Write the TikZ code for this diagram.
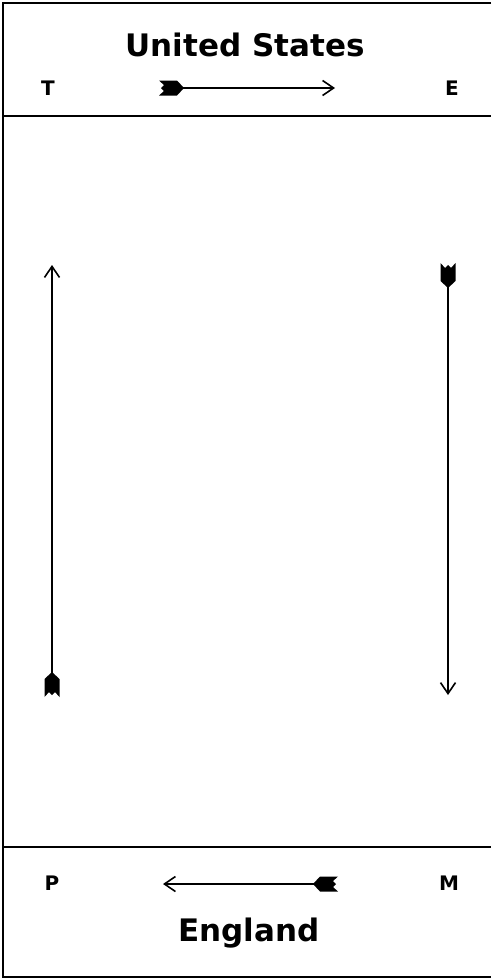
\documentclass[tikz,border=0pt]{standalone}
\usepackage{fontspec}
\newfontfamily\platefont{DejaVu Sans}
\usetikzlibrary{arrows.meta}

\tikzset{
  rule/.style={line width=2pt},
  shaft/.style={line width=1.6pt,-{Straight Barb[length=11pt,width=15pt,line width=1.6pt]}},
  country/.style={anchor=base,inner sep=0pt,font=\platefont\bfseries\fontsize{31}{36}\selectfont},
  corner/.style={anchor=base,inner sep=0pt,font=\platefont\bfseries\fontsize{20}{22}\selectfont},
  fletch/.pic={
    \fill (1,0) -- (-6,-7.5) -- (-24,-7.5) -- (-19,-3) -- (-22,0)
      -- (-19,3) -- (-24,7.5) -- (-6,7.5) -- cycle;
  }
}

\begin{document}
\begin{tikzpicture}[x=1pt,y=-1pt]
\useasboundingbox (0,0) rectangle (491,980);
% frame and the two bands
\draw[rule] (491,3) -- (3,3) -- (3,977) -- (491,977);
\draw[rule] (3,116) -- (491,116);
\draw[rule] (3,847) -- (491,847);

% labels
\node[country] (us) at (245,56) {United States};
\node[corner] (t) at (48,95) {T};
\node[corner] (e) at (452,95) {E};
\node[corner] (p) at (52,890) {P};
\node[corner] (m) at (449,890) {M};
\node[country] (eng) at (249,941) {England};

% arrow ends
\coordinate (usTail) at (183,88);
\coordinate (usHead) at (335,88);
\coordinate (enTail) at (314,884);
\coordinate (enHead) at (163,884);
\coordinate (leftTail) at (52,673);
\coordinate (leftHead) at (52,265);
\coordinate (rightTail) at (448,287);
\coordinate (rightHead) at (448,695);

% the four arrows
\draw[shaft] (usTail) -- (usHead);
\pic at (usTail) {fletch};
\draw[shaft] (enTail) -- (enHead);
\pic[rotate=180] at (enTail) {fletch};
\draw[shaft] (leftTail) -- (leftHead);
\pic[rotate=90] at (leftTail) {fletch};
\draw[shaft] (rightTail) -- (rightHead);
\pic[rotate=-90] at (rightTail) {fletch};
\end{tikzpicture}
\end{document}
